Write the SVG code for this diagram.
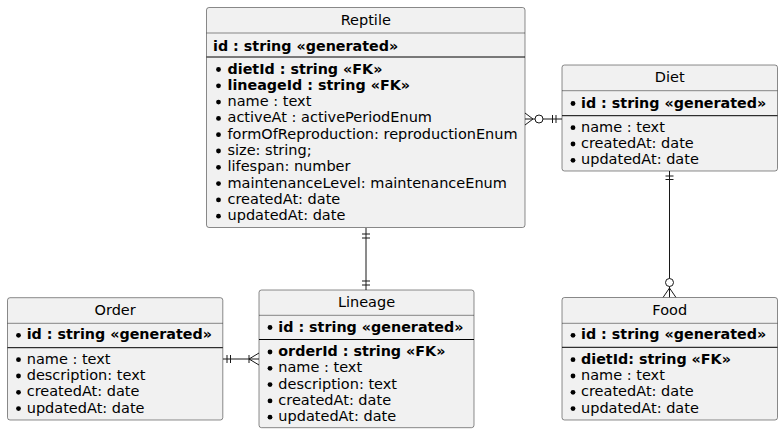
<svg xmlns="http://www.w3.org/2000/svg" width="783" height="435" viewBox="0 0 783 435">
<style>
.box{fill:#F1F1F1;stroke:#181818;stroke-width:0.5}
.hl{stroke:#181818;stroke-width:0.5}
.sep{stroke:#000;stroke-width:1}
text{font-family:"DejaVu Sans",Verdana,sans-serif;font-size:14.5px;fill:#000}
.t{text-anchor:middle}
.b{font-weight:bold;font-size:14.3px}
.dot{fill:#000}
.c{stroke:#181818;stroke-width:1;fill:none}
.ci{stroke:#181818;stroke-width:1;fill:#fff}
</style>
<rect width="783" height="435" fill="#fff"/>
<g id="connectors">
  <line class="c" x1="525" y1="119" x2="562" y2="119"/>
  <path class="c" d="M525,113 L533,119 L525,125"/>
  <circle class="ci" cx="539" cy="119" r="4"/>
  <line class="c" x1="552.5" y1="115" x2="552.5" y2="123"/>
  <line class="c" x1="556" y1="115" x2="556" y2="123"/>
  <line class="c" x1="366" y1="228" x2="366" y2="290"/>
  <line class="c" x1="362" y1="234" x2="370" y2="234"/>
  <line class="c" x1="362" y1="238" x2="370" y2="238"/>
  <line class="c" x1="362" y1="281" x2="370" y2="281"/>
  <line class="c" x1="362" y1="285" x2="370" y2="285"/>
  <line class="c" x1="223" y1="359" x2="259" y2="359"/>
  <line class="c" x1="227" y1="355" x2="227" y2="363"/>
  <line class="c" x1="230.5" y1="355" x2="230.5" y2="363"/>
  <line class="c" x1="249" y1="355" x2="249" y2="363"/>
  <path class="c" d="M259,353 L249,359 L259,365"/>
  <line class="c" x1="669.5" y1="171" x2="669.5" y2="297.5"/>
  <line class="c" x1="665.5" y1="176" x2="673.5" y2="176"/>
  <line class="c" x1="665.5" y1="179.5" x2="673.5" y2="179.5"/>
  <circle class="ci" cx="669.5" cy="282.5" r="4"/>
  <path class="c" d="M663,297.5 L669.5,288 L676,297.5"/>
</g>
<g id="Reptile">
  <rect class="box" x="206.5" y="7.5" width="318.5" height="220" rx="2.5"/>
  <line class="hl" x1="206.5" y1="33" x2="525" y2="33"/>
  <line class="sep" x1="206.5" y1="57" x2="525" y2="57"/>
  <text class="t" x="365.75" y="25">Reptile</text>
  <text class="b" x="213" y="51">id : string «generated»</text>
  <g class="dot">
    <circle cx="218.5" cy="69.5" r="2.4"/><circle cx="218.5" cy="85.8" r="2.4"/><circle cx="218.5" cy="102.1" r="2.4"/><circle cx="218.5" cy="118.4" r="2.4"/><circle cx="218.5" cy="134.7" r="2.4"/><circle cx="218.5" cy="151" r="2.4"/><circle cx="218.5" cy="167.3" r="2.4"/><circle cx="218.5" cy="183.6" r="2.4"/><circle cx="218.5" cy="199.9" r="2.4"/><circle cx="218.5" cy="216.2" r="2.4"/>
  </g>
  <text class="b" x="227.5" y="73.5">dietId : string «FK»</text>
  <text class="b" x="227.5" y="89.8">lineageId : string «FK»</text>
  <text x="227.5" y="106.1">name : text</text>
  <text x="227.5" y="122.4">activeAt : activePeriodEnum</text>
  <text x="227.5" y="138.7">formOfReproduction: reproductionEnum</text>
  <text x="227.5" y="155">size: string;</text>
  <text x="227.5" y="171.3">lifespan: number</text>
  <text x="227.5" y="187.6">maintenanceLevel: maintenanceEnum</text>
  <text x="227.5" y="203.9">createdAt: date</text>
  <text x="227.5" y="220.2">updatedAt: date</text>
</g>
<g id="Diet">
  <rect class="box" x="562" y="65" width="215.5" height="106" rx="2.5"/>
  <line class="hl" x1="562" y1="90.7" x2="777.5" y2="90.7"/>
  <line class="sep" x1="562" y1="115.7" x2="777.5" y2="115.7"/>
  <text class="t" x="669.75" y="82">Diet</text>
  <g class="dot">
    <circle cx="573" cy="103.5" r="2.4"/><circle cx="573" cy="127.7" r="2.4"/><circle cx="573" cy="144" r="2.4"/><circle cx="573" cy="160.3" r="2.4"/>
  </g>
  <text class="b" x="581" y="107.5">id : string «generated»</text>
  <text x="581" y="131.7">name : text</text>
  <text x="581" y="148">createdAt: date</text>
  <text x="581" y="164.3">updatedAt: date</text>
</g>
<g id="Order">
  <rect class="box" x="7.5" y="297.7" width="215.3" height="122.3" rx="2.5"/>
  <line class="hl" x1="7.5" y1="323.3" x2="222.8" y2="323.3"/>
  <line class="sep" x1="7.5" y1="347.7" x2="222.8" y2="347.7"/>
  <text class="t" x="115.15" y="315">Order</text>
  <g class="dot">
    <circle cx="18.5" cy="335.3" r="2.4"/><circle cx="18.5" cy="359.7" r="2.4"/><circle cx="18.5" cy="376" r="2.4"/><circle cx="18.5" cy="392.3" r="2.4"/><circle cx="18.5" cy="408.6" r="2.4"/>
  </g>
  <text class="b" x="26.7" y="339.3">id : string «generated»</text>
  <text x="26.7" y="363.7">name : text</text>
  <text x="26.7" y="380">description: text</text>
  <text x="26.7" y="396.3">createdAt: date</text>
  <text x="26.7" y="412.6">updatedAt: date</text>
</g>
<g id="Lineage">
  <rect class="box" x="259" y="290" width="215" height="137.7" rx="2.5"/>
  <line class="hl" x1="259" y1="315.3" x2="474" y2="315.3"/>
  <line class="sep" x1="259" y1="339.5" x2="474" y2="339.5"/>
  <text class="t" x="366.5" y="307.3">Lineage</text>
  <g class="dot">
    <circle cx="270" cy="327.5" r="2.4"/><circle cx="270" cy="352" r="2.4"/><circle cx="270" cy="368.3" r="2.4"/><circle cx="270" cy="384.6" r="2.4"/><circle cx="270" cy="400.9" r="2.4"/><circle cx="270" cy="417.2" r="2.4"/>
  </g>
  <text class="b" x="278.3" y="331.5">id : string «generated»</text>
  <text class="b" x="278.3" y="356">orderId : string «FK»</text>
  <text x="278.3" y="372.3">name : text</text>
  <text x="278.3" y="388.6">description: text</text>
  <text x="278.3" y="404.9">createdAt: date</text>
  <text x="278.3" y="421.2">updatedAt: date</text>
</g>
<g id="Food">
  <rect class="box" x="562" y="297.5" width="215.5" height="122.5" rx="2.5"/>
  <line class="hl" x1="562" y1="323.3" x2="777.5" y2="323.3"/>
  <line class="sep" x1="562" y1="347.3" x2="777.5" y2="347.3"/>
  <text class="t" x="669.75" y="315">Food</text>
  <g class="dot">
    <circle cx="573" cy="335.3" r="2.4"/><circle cx="573" cy="359.7" r="2.4"/><circle cx="573" cy="376" r="2.4"/><circle cx="573" cy="392.3" r="2.4"/><circle cx="573" cy="408.6" r="2.4"/>
  </g>
  <text class="b" x="581" y="339.3">id : string «generated»</text>
  <text class="b" x="581" y="363.7">dietId: string «FK»</text>
  <text x="581" y="380">name : text</text>
  <text x="581" y="396.3">createdAt: date</text>
  <text x="581" y="412.6">updatedAt: date</text>
</g>
</svg>
